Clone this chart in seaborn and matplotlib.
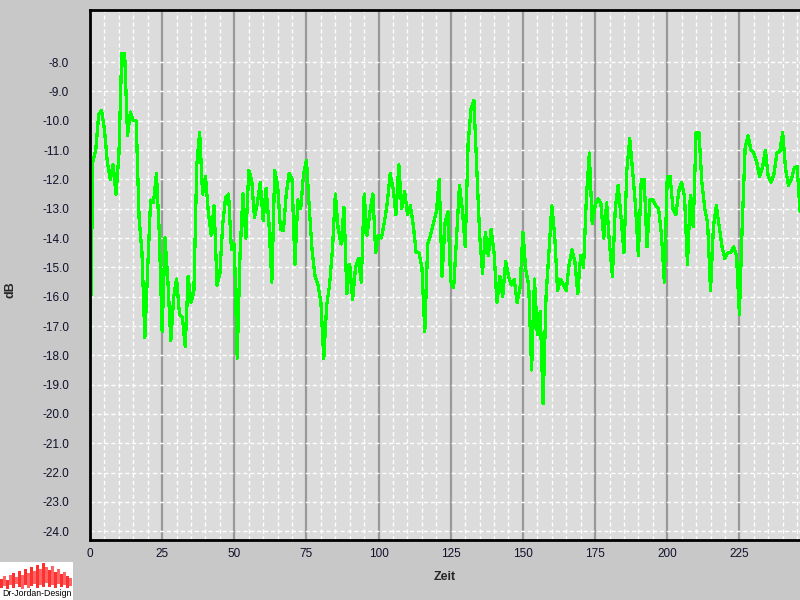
import numpy as np
import pandas as pd
import seaborn as sns
import matplotlib.pyplot as plt
import matplotlib.ticker as ticker

zeit = list(range(0, 247))
db = [
    -18.0, -11.4, -11.0, -9.8, -9.65, -10.3, -11.4, -12.0, -11.5, -12.5,
    -11.2, -7.7, -7.7, -10.5, -9.7, -10.0, -10.0, -13.3, -14.5, -17.4,
    -15.0, -12.7, -12.8, -11.8, -13.8, -17.2, -14.0, -15.5, -17.5, -16.0,
    -15.4, -16.6, -16.7, -17.7, -15.3, -16.2, -15.8, -11.5, -10.4, -12.5,
    -11.9, -13.1, -13.9, -12.9, -15.6, -15.2, -13.5, -12.6, -12.5, -14.4,
    -14.2, -18.1, -14.5, -12.5, -14.0, -11.7, -12.0, -13.3, -12.8, -12.1,
    -13.4, -12.3, -13.5, -15.5, -11.7, -12.2, -13.7, -13.75, -12.5, -11.8,
    -12.0, -14.9, -12.7, -13.0, -11.8, -11.35, -13.0, -14.5, -15.3, -15.6,
    -16.2, -18.1, -16.3, -15.6, -14.4, -12.5, -13.7, -14.2, -12.95, -15.9,
    -14.9, -16.1, -15.0, -14.7, -15.5, -12.5, -13.9, -13.1, -12.5, -14.5,
    -13.9, -14.0, -13.45, -12.8, -11.8, -12.3, -13.2, -11.5, -13.0, -12.4,
    -13.2, -12.9, -13.55, -14.5, -14.5, -15.0, -17.2, -14.2, -13.9, -13.5,
    -13.1, -12.0, -15.3, -13.5, -13.1, -15.5, -15.7, -14.0, -12.2, -13.0,
    -14.3, -10.8, -9.6, -9.3, -11.6, -13.9, -15.2, -13.8, -14.6, -13.7,
    -14.5, -16.2, -15.3, -16.0, -14.8, -15.3, -15.6, -15.4, -16.2, -15.7,
    -13.8, -15.1, -15.6, -18.5, -15.4, -17.3, -16.5, -19.65, -16.0, -14.5,
    -12.9, -13.9, -15.8, -15.4, -15.6, -15.8, -14.9, -14.4, -14.8, -15.9,
    -14.6, -15.0, -12.6, -11.1, -13.5, -12.9, -12.65, -12.8, -14.0, -12.8,
    -14.2, -15.3, -13.0, -12.2, -13.3, -14.5, -11.7, -10.6, -11.7, -12.9,
    -14.6, -12.0, -12.0, -14.3, -12.7, -12.7, -12.9, -13.0, -13.9, -15.5,
    -11.9, -11.9, -13.0, -13.2, -12.4, -12.1, -12.6, -14.9, -12.55, -13.6,
    -10.4, -10.4, -12.1, -13.0, -13.5, -15.8, -13.6, -12.9, -13.6, -14.3,
    -14.7, -14.5, -14.5, -14.3, -14.6, -16.6, -13.5, -10.9, -10.5, -11.0,
    -11.1, -11.4, -11.9, -11.6, -11.0, -11.9, -12.1, -11.8, -11.1, -11.05,
    -10.4, -11.65, -12.2, -12.0, -11.6, -11.55, -13.1,
]
y_ticks = list(range(-24, -7))
x_ticks = [0, 25, 50, 75, 100, 125, 150, 175, 200, 225]

# Logo-Balken (Pixelzeilen oben/unten)
logo_top = [579, 576, 580, 575, 573, 577, 571, 575, 569, 573, 567, 571,
            565, 569, 563, 567, 570, 566, 572, 569, 574, 572, 576, 578]
logo_bot = [588, 586, 589, 585, 588, 584, 587, 589, 585, 588, 586, 584,
            588, 585, 587, 583, 587, 585, 588, 584, 587, 585, 588, 586]

sns.set_style("white", {"axes.facecolor": "#dcdcdc", "figure.facecolor": "#c8c8c8"})
plt.rcParams['font.family'] = ['Liberation Sans', 'DejaVu Sans']

fig = plt.figure(figsize=(8, 6), dpi=100)
fig.patch.set_facecolor('#c8c8c8')
ax = fig.add_axes([90 / 800, 60 / 600, 710 / 800, 530 / 600])
ax.set_facecolor('#dcdcdc')

df = pd.DataFrame({'Zeit': zeit, 'dB': db})
sns.lineplot(data=df, x='Zeit', y='dB', ax=ax, color='#00ff00', lw=1.6, antialiased=False)

ax.set_xlim(0, 246)
ax.set_ylim(-24.3, -6.22)
ax.xaxis.set_major_locator(ticker.FixedLocator(x_ticks))
ax.xaxis.set_minor_locator(ticker.MultipleLocator(5))
ax.yaxis.set_major_locator(ticker.FixedLocator(y_ticks))
ax.yaxis.set_major_formatter(ticker.FormatStrFormatter('%.1f'))
ax.set_axisbelow(True)
ax.grid(which='minor', axis='x', color='white', ls=(0, (3, 2)), lw=1)
ax.grid(which='major', axis='y', color='white', ls=(0, (3, 2)), lw=1)
ax.grid(which='major', axis='x', color='#999999', ls='-', lw=1.6)

ax.tick_params(axis='y', which='both', length=0, pad=15, labelsize=8.5, labelcolor='#10102a')
ax.tick_params(axis='x', which='both', length=0, pad=5.5, labelsize=8.5, labelcolor='#10102a')
ax.set_xlabel('')
ax.set_ylabel('')

for side in ['top', 'left', 'bottom']:
    ax.spines[side].set_visible(True)
    ax.spines[side].set_color('black')
    ax.spines[side].set_linewidth(2)
ax.spines['right'].set_visible(False)

fig.text(445 / 800, 1 - 577 / 600, 'Zeit', ha='center', va='center', fontsize=9, fontweight='bold')
fig.text(10 / 800, 1 - 290 / 600, 'dB', ha='center', va='center', rotation=90, fontsize=9, fontweight='bold')

# Logo unten links
ax_logo = fig.add_axes([0, 0, 73 / 800, 38 / 600])
ax_logo.set_facecolor('white')
ax_logo.set_xlim(0, 73)
ax_logo.set_ylim(600, 562)
logo_x = [1.5 + 3 * i for i in range(len(logo_top))]
logo_h = [b - t for t, b in zip(logo_top, logo_bot)]
logo_col = ['#ff3030' if i % 2 == 0 else '#ff6464' for i in range(len(logo_top))]
ax_logo.bar(logo_x, logo_h, bottom=logo_top, width=3, color=logo_col, linewidth=0)
ax_logo.text(36.5, 593.5, 'Dr-Jordan-Design', ha='center', va='center', fontsize=6.3, color='black')
ax_logo.set_xticks([])
ax_logo.set_yticks([])
for s in ax_logo.spines.values():
    s.set_visible(False)

plt.savefig('out.png', dpi=100, facecolor=fig.get_facecolor())
